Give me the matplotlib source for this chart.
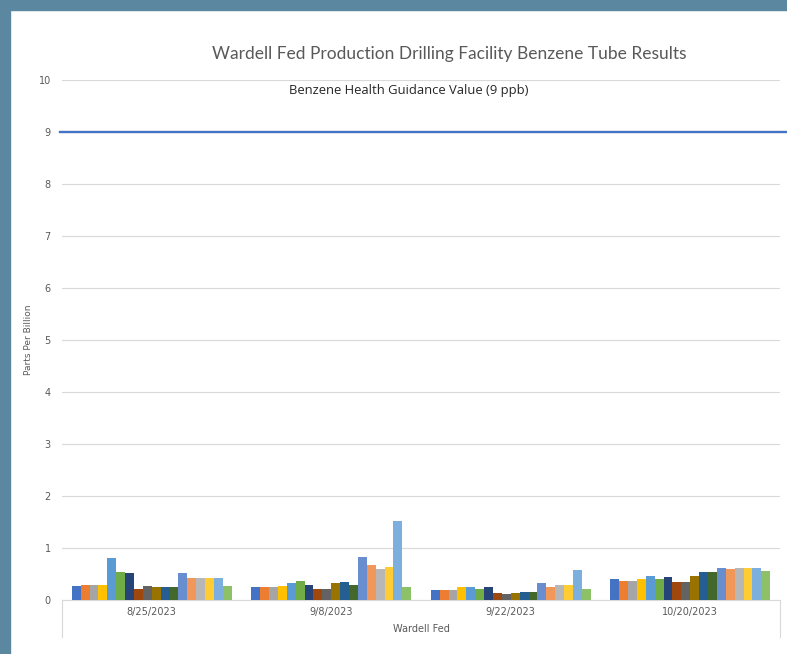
import matplotlib.pyplot as plt
import matplotlib.patches as patches
import numpy as np

# sampling dates (inner category level) and site (outer level)
dates = ['8/25/2023', '9/8/2023', '9/22/2023', '10/20/2023']
site = 'Wardell Fed'

# benzene tube results (ppb), one list per date, 18 tubes each
r_0825 = [0.26, 0.29, 0.29, 0.29, 0.80, 0.53, 0.51, 0.22, 0.26,
          0.25, 0.25, 0.25, 0.51, 0.43, 0.43, 0.43, 0.43, 0.26]
r_0908 = [0.25, 0.25, 0.25, 0.27, 0.32, 0.37, 0.29, 0.21, 0.22,
          0.32, 0.35, 0.29, 0.82, 0.67, 0.60, 0.64, 1.51, 0.25]
r_0922 = [0.20, 0.20, 0.20, 0.25, 0.25, 0.22, 0.25, 0.13, 0.11,
          0.13, 0.16, 0.16, 0.32, 0.25, 0.29, 0.29, 0.57, 0.22]
r_1020 = [0.41, 0.37, 0.37, 0.41, 0.47, 0.41, 0.45, 0.34, 0.34,
          0.47, 0.53, 0.53, 0.62, 0.59, 0.62, 0.62, 0.62, 0.55]

guidance = 9  # ppb

# Excel office palette
colors = ['#4472C4', '#ED7D31', '#A5A5A5', '#FFC000', '#5B9BD5', '#70AD47',
          '#264478', '#9E480E', '#636363', '#997300', '#255E91', '#43682B',
          '#698ED0', '#F1975A', '#B7B7B7', '#FFCD33', '#7CAFDD', '#8CC168']

values = np.array([r_0825, r_0908, r_0922, r_1020])
n_series = values.shape[1]

fig = plt.figure(figsize=(7.87, 6.54), dpi=100)
W, H = 787, 654

# blue-grey frame on left and top
fig.patches.append(patches.Rectangle((0, 0), 10 / W, 1, transform=fig.transFigure,
                                     color='#5B87A1', zorder=0))
fig.patches.append(patches.Rectangle((0, 1 - 10 / H), 1, 10 / H, transform=fig.transFigure,
                                     color='#5B87A1', zorder=0))

ax = fig.add_axes([62 / W, 1 - 600 / H, (780 - 62) / W, (600 - 80) / H])

x = np.arange(len(dates))
w = 0.0495
for i in range(n_series):
    off = (i - (n_series - 1) / 2) * w
    ax.bar(x + off, values[:, i], width=w, color=colors[i], zorder=3)

ax.set_xlim(-0.5, len(dates) - 0.5)
ax.set_ylim(0, 10)
ax.set_yticks(range(0, 11))
ax.grid(axis='y', color='#D9D9D9', linewidth=0.8, zorder=0)
ax.tick_params(axis='y', length=0, labelsize=7, labelcolor='#595959', pad=8)
ax.tick_params(axis='x', length=0, labelsize=7, labelcolor='#595959', pad=5)
ax.set_xticks(x)
ax.set_xticklabels(dates)
for s in ['top', 'right', 'left']:
    ax.spines[s].set_visible(False)
ax.spines['bottom'].set_color('#D9D9D9')

# guidance line, runs past the plot area to the image edge
ax.plot([-0.51, 3.55], [guidance, guidance], color='#4472C4', linewidth=1.7,
        clip_on=False, zorder=4)
ax.text(1.43, 9.8, 'Benzene Health Guidance Value (9 ppb)', ha='center', va='center',
        fontsize=9.4, color='#262626', family='Open Sans')

# outer category box
ax.plot([-0.5, -0.5], [0, -0.72], color='#D9D9D9', linewidth=0.8, clip_on=False)
ax.plot([3.5, 3.5], [0, -0.72], color='#D9D9D9', linewidth=0.8, clip_on=False)
ax.text(1.5, -0.56, site, ha='center', va='center', fontsize=7, color='#595959')

ax.set_ylabel('Parts Per Billion', fontsize=6.5, color='#595959', labelpad=4)

fig.text(449 / W, 1 - 54 / H, 'Wardell Fed Production Drilling Facility Benzene Tube Results',
         ha='center', va='center', fontsize=12.5, color='#595959', family='Lato')

fig.savefig('out.png', dpi=100)
